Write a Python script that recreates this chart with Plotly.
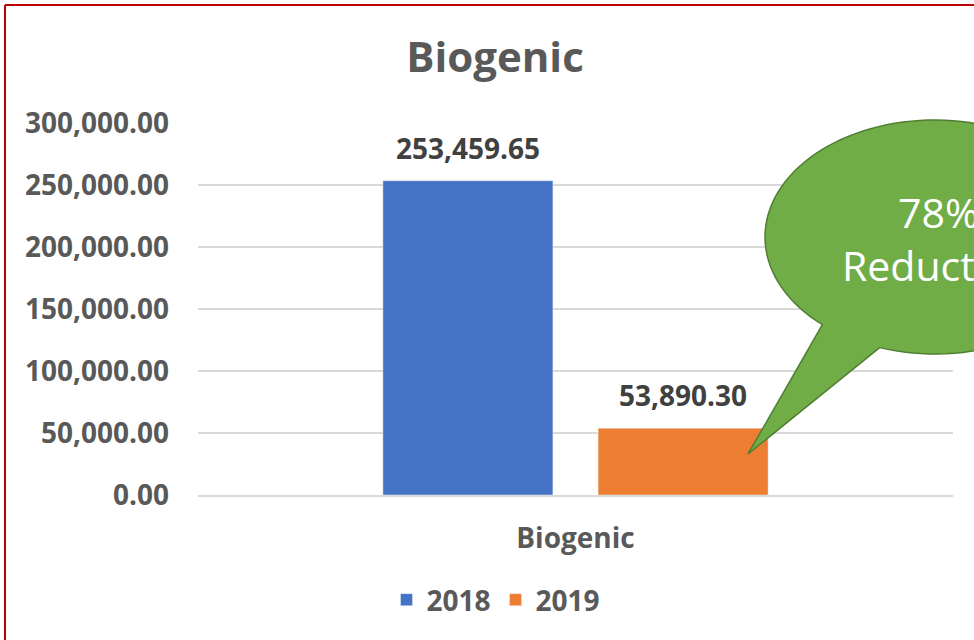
import numpy as np
import plotly.graph_objects as go

categories = ["Biogenic"]
years = ["2018", "2019"]
values = [253459.65, 53890.30]
colors = ["#4472C4", "#ED7D31"]
y_ticks = [0, 50000, 100000, 150000, 200000, 250000, 300000]
callout_text = "78%<br>Reduction"

W, H = 974, 640
L, R, T, B = 198, 21, 123, 145
pw, ph = W - L - R, H - T - B


def px(x):
    return (x - L) / pw


def py(y):
    return (H - B - y) / ph


fig = go.Figure()
for yr, v, c in zip(years, values, colors):
    fig.add_trace(go.Bar(x=categories, y=[v], name=yr, marker_color=c))

# data labels above each bar
slot = (1 - 0.43) / 2 * pw
for i, v in enumerate(values):
    fig.add_annotation(
        x=categories[0], y=v, xref="x", yref="y",
        text=f"{v:,.2f}", showarrow=False, yanchor="bottom",
        xshift=(i - 0.5) * slot, yshift=12,
        font=dict(family="Open Sans", size=28, color="#404040", weight="bold"),
    )

# speech bubble callout
cx, cy, rx, ry = 935, 237, 170, 117
a1, a2 = np.radians(109), np.radians(131.5 - 360)
th = np.linspace(a1, a2, 120)
ex = cx + rx * np.cos(th)
ey = cy + ry * np.sin(th)
pts = list(zip(ex, ey)) + [(748, 454)]
path = "M " + " L ".join(f"{px(a):.5f},{py(b):.5f}" for a, b in pts) + " Z"
fig.add_shape(type="path", xref="paper", yref="paper", path=path,
              fillcolor="#70AD47", line=dict(color="#507E32", width=1.5), layer="above")
fig.add_annotation(x=px(cx + 3), y=py(cy + 1), xref="paper", yref="paper", text=callout_text,
                   showarrow=False, xanchor="center", yanchor="middle",
                   font=dict(family="Open Sans", size=41, color="white"))

# red border
fig.add_shape(type="line", xref="paper", yref="paper", x0=px(5), x1=px(980), y0=py(5), y1=py(5),
              line=dict(color="#C00000", width=2))
fig.add_shape(type="line", xref="paper", yref="paper", x0=px(5), x1=px(5), y0=py(5), y1=py(645),
              line=dict(color="#C00000", width=2))

fig.update_layout(
    width=W, height=H,
    margin=dict(l=L, r=R, t=T, b=B),
    paper_bgcolor="white", plot_bgcolor="white",
    barmode="group", bargap=0.43, bargroupgap=0.21,
    font=dict(family="Open Sans", color="#595959"),
    title=dict(text="<b>Biogenic</b>", x=495 / W, xanchor="center", y=1 - 57 / H, yanchor="middle",
               font=dict(size=42, color="#595959")),
    legend=dict(orientation="h", x=px(496), y=py(600), xanchor="center", yanchor="middle",
                font=dict(size=28, color="#595959", weight="bold")),
    yaxis=dict(range=[0, 300000], tickvals=y_ticks, tickformat=",.2f",
               gridcolor="#D9D9D9", gridwidth=1.5, zeroline=False, showline=False,
               ticklabelstandoff=28,
               tickfont=dict(size=28, color="#595959", weight="bold")),
    xaxis=dict(showline=True, linecolor="#D9D9D9", linewidth=1.5, ticks="",
               ticklabelstandoff=18,
               tickfont=dict(size=28, color="#595959", weight="bold")),
)

fig.write_html("out.html", config={"displayModeBar": False},
               post_script="document.body.style.margin='0';")
